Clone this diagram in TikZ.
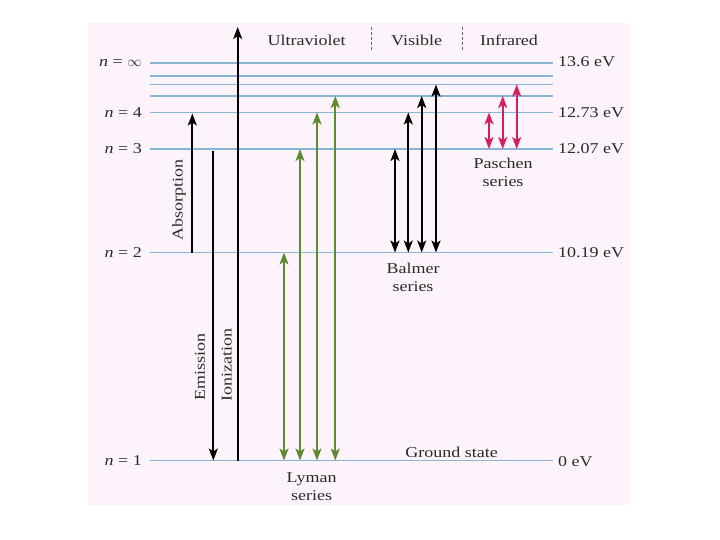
\documentclass[tikz,border=0pt]{standalone}
\usepackage{fontspec}
\setmainfont{Liberation Serif}[FakeStretch=1.2]
\usetikzlibrary{arrows.meta}
\definecolor{bg}{HTML}{FCF4FA}
\definecolor{lvl}{HTML}{86B6D4}
\definecolor{lym}{HTML}{5F8A2F}
\definecolor{pas}{HTML}{D5215A}
\definecolor{txt}{HTML}{2A2A2A}
\definecolor{sep}{HTML}{666666}
\tikzset{
  level/.style={lvl, line width=1.6pt},
  lab/.style={font=\fontsize{15}{17}\selectfont, text=txt, inner sep=0pt},
  uparrow/.style={line width=2pt, -{Stealth[length=12pt,width=9pt,inset=3pt]}},
  dblarrow/.style={line width=2pt, {Stealth[length=12pt,width=9pt,inset=3pt]}-{Stealth[length=12pt,width=9pt,inset=3pt]}},
  sepline/.style={sep, line width=0.9pt, dash pattern=on 3pt off 2pt},
}
\begin{document}
\begin{tikzpicture}[x=1pt,y=-1pt]
\useasboundingbox (0,0) rectangle (720,540);
\fill[bg] (88,23) rectangle (630,505);

% level y values
\def\yA{460.5}\def\yB{252.5}\def\yC{149}\def\yD{112.5}
\def\yE{96}\def\yF{84.5}\def\yG{76}\def\yI{63}

% levels
\foreach \nm/\yy in {L1/\yA,L2/\yB,L3/\yC,L4/\yD,L5/\yE,L6/\yF,L7/\yG,Li/\yI}{
  \coordinate (\nm l) at (150,\yy);
  \coordinate (\nm r) at (553,\yy);
  \draw[level] (\nm l) -- (\nm r);
}

% left labels
\node[lab, anchor=east] (nA) at ([xshift=-8pt]L1l) {\textit{n} = 1};
\node[lab, anchor=east] (nB) at ([xshift=-8pt]L2l) {\textit{n} = 2};
\node[lab, anchor=east] (nC) at ([xshift=-8pt]L3l) {\textit{n} = 3};
\node[lab, anchor=east] (nD) at ([xshift=-8pt]L4l) {\textit{n} = 4};
\node[lab, anchor=east] (nI) at ([xshift=-8pt]Lil) {\textit{n} = $\infty$};

% right labels
\node[lab, anchor=west] (eI) at ([xshift=5pt,yshift=1pt]Lir) {13.6 eV};
\node[lab, anchor=west] (eD) at ([xshift=5pt]L4r) {12.73 eV};
\node[lab, anchor=west] (eC) at ([xshift=5pt]L3r) {12.07 eV};
\node[lab, anchor=west] (eB) at ([xshift=5pt]L2r) {10.19 eV};
\node[lab, anchor=west] (eA) at ([xshift=5pt,yshift=-1pt]L1r) {0 eV};

% top region labels
\node[lab] (uv) at (306.7,40) {Ultraviolet};
\node[lab] (vis) at (416.7,40) {Visible};
\node[lab] (ir) at (509,40) {Infrared};
\coordinate (s1a) at (371.7,27); \coordinate (s1b) at (371.7,52);
\coordinate (s2a) at (462.3,27); \coordinate (s2b) at (462.3,52);
\draw[sepline] (s1a) -- (s1b);
\draw[sepline] (s2a) -- (s2b);

% absorption / emission / ionization
\coordinate (ab0) at (192.3,\yB); \coordinate (ab1) at (192.3,113.5);
\draw[uparrow] (ab0) -- (ab1);
\node[lab, rotate=90] (abs) at (179,200) {Absorption};
\coordinate (em0) at (213.3,151); \coordinate (em1) at (213.3,\yA);
\draw[uparrow] (em0) -- (em1);
\node[lab, rotate=90] (emi) at (200,367) {Emission};
\coordinate (io0) at (237.7,\yA); \coordinate (io1) at (237.7,27);
\draw[uparrow] (io0) -- (io1);
\node[lab, rotate=90] (ion) at (226.7,365) {Ionization};

% Lyman series
\foreach \i/\xx/\yy in {1/284/\yB,2/300/\yC,3/317/\yD,4/335.3/\yE}{
  \coordinate (ly\i a) at (\xx,\yA);
  \coordinate (ly\i b) at (\xx,\yy);
  \draw[dblarrow, lym] (ly\i a) -- (ly\i b);
}
\node[lab, align=center] (lyman) at (311.7,486.5) {Lyman\\[1pt]series};

% Balmer series
\foreach \i/\xx/\yy in {1/395/\yC,2/408.3/\yD,3/421.7/\yE,4/436/\yF}{
  \coordinate (ba\i a) at (\xx,\yB);
  \coordinate (ba\i b) at (\xx,\yy);
  \draw[dblarrow, black] (ba\i a) -- (ba\i b);
}
\node[lab, align=center] (balmer) at (413,277) {Balmer\\[1pt]series};

% Paschen series
\foreach \i/\xx/\yy in {1/489/\yD,2/502.7/\yE,3/516.7/\yF}{
  \coordinate (pa\i a) at (\xx,\yC);
  \coordinate (pa\i b) at (\xx,\yy);
  \draw[dblarrow, pas] (pa\i a) -- (pa\i b);
}
\node[lab, align=center] (paschen) at (503,172) {Paschen\\[1pt]series};

% ground state
\node[lab, anchor=south] (gs) at (451.7,458) {Ground state};
\end{tikzpicture}
\end{document}
